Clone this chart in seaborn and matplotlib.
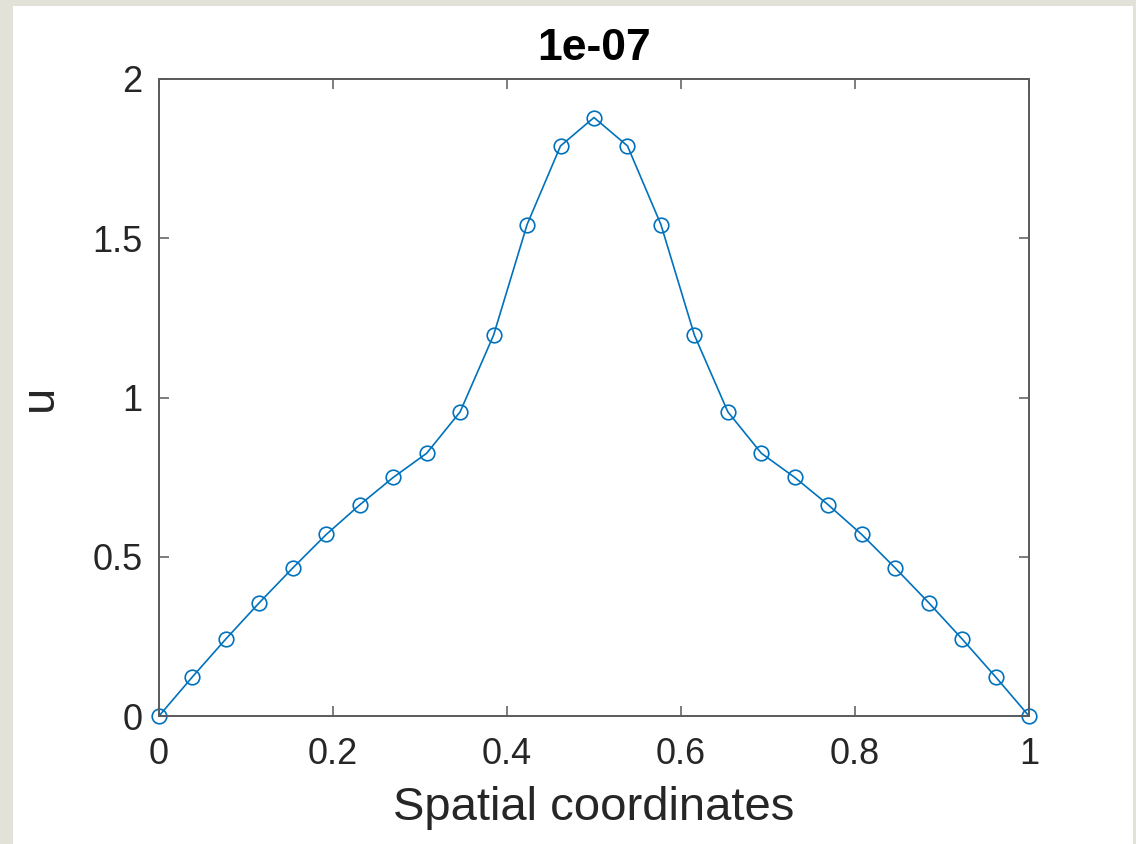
import numpy as np
import pandas as pd
import matplotlib
matplotlib.use("Agg")
import matplotlib.pyplot as plt
from matplotlib.patches import Rectangle
import seaborn as sns

# Solution profile on a uniform grid of 27 nodes
x_nodes = np.linspace(0.0, 1.0, 27)
u_values = [0.0, 0.123, 0.242, 0.356, 0.465, 0.570, 0.663, 0.749, 0.825,
            0.955, 1.196, 1.543, 1.790, 1.879, 1.790, 1.543, 1.196, 0.955,
            0.825, 0.749, 0.663, 0.570, 0.465, 0.356, 0.242, 0.123, 0.0]

x_ticks = [0, 0.2, 0.4, 0.6, 0.8, 1]
x_tick_labels = ["0", "0.2", "0.4", "0.6", "0.8", "1"]
y_ticks = [0, 0.5, 1, 1.5, 2]
y_tick_labels = ["0", "0.5", "1", "1.5", "2"]

title_text = "1e-07"
x_label = "Spatial coordinates"
y_label = "u"

line_color = "#0072BD"
axis_color = "#5a5a5a"
text_color = "#262626"

sns.set_theme(style="white")
plt.rcParams["font.family"] = ["Liberation Sans", "DejaVu Sans"]

df = pd.DataFrame({"x": x_nodes, "u": u_values})

fig = plt.figure(figsize=(11.36, 8.44), dpi=100)
fig.patch.set_facecolor("#e2e2d8")
# white canvas inside the beige window frame
fig.add_artist(Rectangle((13 / 1136, 0), (1133 - 13) / 1136, 1 - 6 / 844,
                         transform=fig.transFigure, facecolor="white",
                         edgecolor="none", zorder=-10))

ax = fig.add_axes([159 / 1136, 1 - 716 / 844, (1029 - 159) / 1136, (716 - 79) / 844])
ax.set_facecolor("white")
ax.set_zorder(1)

sns.lineplot(data=df, x="x", y="u", ax=ax, color=line_color, linewidth=1.2,
             marker="o", markersize=10.5, markerfacecolor="none",
             markeredgecolor=line_color, markeredgewidth=1.2, clip_on=False)

ax.set_xlim(0, 1)
ax.set_ylim(0, 2)
ax.set_xticks(x_ticks)
ax.set_xticklabels(x_tick_labels)
ax.set_yticks(y_ticks)
ax.set_yticklabels(y_tick_labels)

for side in ["left", "right", "top", "bottom"]:
    ax.spines[side].set_visible(True)
    ax.spines[side].set_color(axis_color)
    ax.spines[side].set_linewidth(1.4)

ax.tick_params(axis="both", which="major", direction="in", length=7, width=1.1,
               color=axis_color, labelsize=26, labelcolor=text_color,
               top=True, right=True, bottom=True, left=True)
ax.tick_params(axis="x", pad=15)
ax.tick_params(axis="y", pad=12)

ax.set_title(title_text, fontsize=32, fontweight="bold", color="black", pad=14)
ax.set_xlabel(x_label, fontsize=34, color=text_color, labelpad=10)
ax.set_ylabel(y_label, fontsize=34, color=text_color, labelpad=22)

fig.savefig("out.png", dpi=100, facecolor=fig.get_facecolor())
